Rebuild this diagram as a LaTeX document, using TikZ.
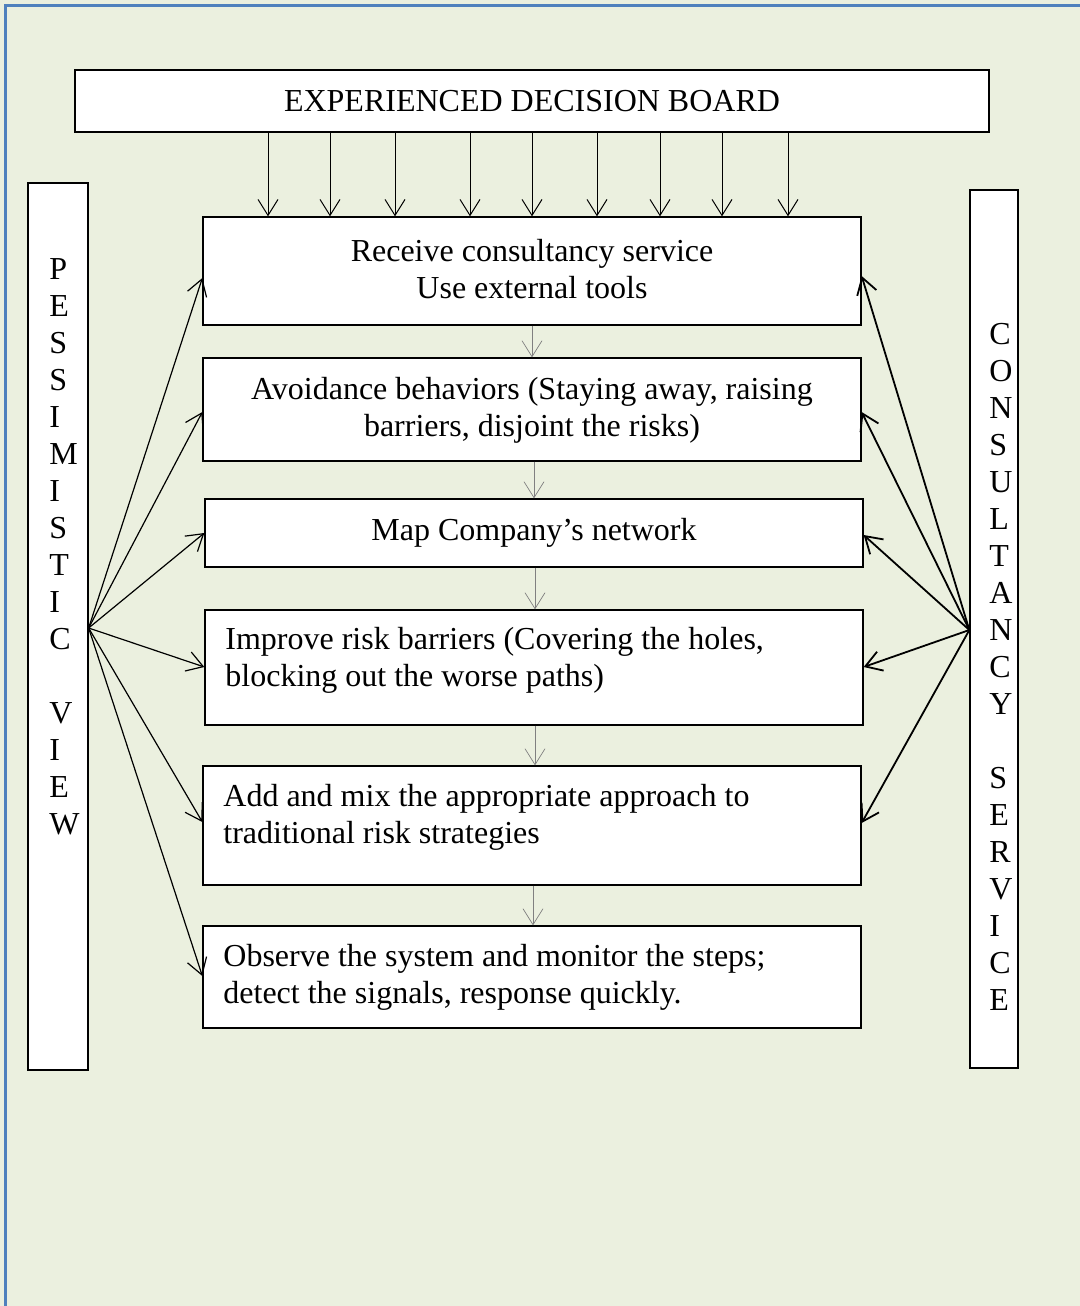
\documentclass[tikz,border=0pt]{standalone}
\usepackage{fontspec}
\setmainfont{Liberation Serif}
\usetikzlibrary{arrows.meta}
\definecolor{pagebg}{HTML}{EBF0DF}
\definecolor{frameblue}{HTML}{4F81BD}
\definecolor{flowgray}{HTML}{808080}
\begin{document}
\begin{tikzpicture}[x=0.5pt,y=-0.5pt,
  box/.style={draw=black, line width=0.65pt, fill=white, inner sep=0pt},
  txt/.style={font=\fontsize{16}{18.5}\selectfont, inner sep=0pt},
  barb/.style={-{Straight Barb[length=8pt,width=10pt]}},
  tarrow/.style={barb, line width=0.5pt},
  larrow/.style={barb, line width=0.6pt},
  rarrow/.style={barb, line width=0.9pt},
  garrow/.style={barb, draw=flowgray, line width=0.35pt}]
% page and frame
\fill[pagebg] (0,0) rectangle (1080,1306);
\useasboundingbox (0,0) rectangle (1080,1306);
\draw[frameblue, line width=1.2pt] (5.5,1306) -- (5.5,5.5) -- (1080,5.5);

% decision board
\node[box, txt, minimum width=457pt, minimum height=31pt] (top) at (532,101) {EXPERIENCED DECISION BOARD};

% process boxes
\node[box, minimum width=329pt, minimum height=54pt]   (b1) at (532,271) {};
\node[box, minimum width=329pt, minimum height=51.5pt] (b2) at (532,409.5) {};
\node[box, minimum width=329pt, minimum height=34pt]   (b3) at (534,533) {};
\node[box, minimum width=329pt, minimum height=57.5pt] (b4) at (534,667.5) {};
\node[box, minimum width=329pt, minimum height=59.5pt] (b5) at (532,825.5) {};
\node[box, minimum width=329pt, minimum height=51pt]   (b6) at (532,977) {};

\node[txt, align=center] (t1) at (532,269.5) {Receive consultancy service\\Use external tools};
\node[txt, align=center] (t2) at (532,410) {Avoidance behaviors (Staying away, raising\\barriers, disjoint the risks)};
\node[txt, align=center] (t3) at (534,532.5) {Map Company’s network};
\node[txt, align=left, anchor=west] (t4) at (225,660.5) {Improve risk barriers (Covering the holes,\\blocking out the worse paths)};
\node[txt, align=left, anchor=west] (t5) at (223,817.5) {Add and mix the appropriate approach to\\traditional risk strategies};
\node[txt, align=left, anchor=west] (t6) at (223,977.5) {Observe the system and monitor the steps;\\detect the signals, response quickly.};

% side columns
\node[box, minimum width=30pt, minimum height=443.5pt] (lv) at (58,626.5) {};
\node[box, minimum width=24pt, minimum height=439pt]   (rv) at (994,629) {};
\node[txt, align=left, anchor=west] (lvt) at (49,546.5)
  {P\\E\\S\\S\\I\\M\\I\\S\\T\\I\\C\\~\\V\\I\\E\\W};
\node[txt, align=left, anchor=west] (rvt) at (989,666.5)
  {C\\O\\N\\S\\U\\L\\T\\A\\N\\C\\Y\\~\\S\\E\\R\\V\\I\\C\\E};

% board to first step
\foreach \x in {268,330,395,470,532,597,660,722,788}
  \draw[tarrow] (top.south -| \x,0) -- (b1.north -| \x,0);

% flow between steps
\draw[garrow] (b1.south -| 532,0) -- (b2.north -| 532,0);
\draw[garrow] (b2.south -| 534,0) -- (b3.north -| 534,0);
\draw[garrow] (b3.south -| 535,0) -- (b4.north -| 535,0);
\draw[garrow] (b4.south -| 535,0) -- (b5.north -| 535,0);
\draw[garrow] (b5.south -| 533,0) -- (b6.north -| 533,0);

% pessimistic view fan
\foreach \b/\y in {b1/278,b2/412,b3/533,b4/667,b5/822,b6/976}
  \draw[larrow] (lv.east |- 0,628) -- (\b.west |- 0,\y);

% consultancy service fan
\foreach \b/\y in {b1/276,b2/412,b3/535,b4/667,b5/823}
  \draw[rarrow] (rv.west |- 0,630) -- (\b.east |- 0,\y);
\end{tikzpicture}
\end{document}
